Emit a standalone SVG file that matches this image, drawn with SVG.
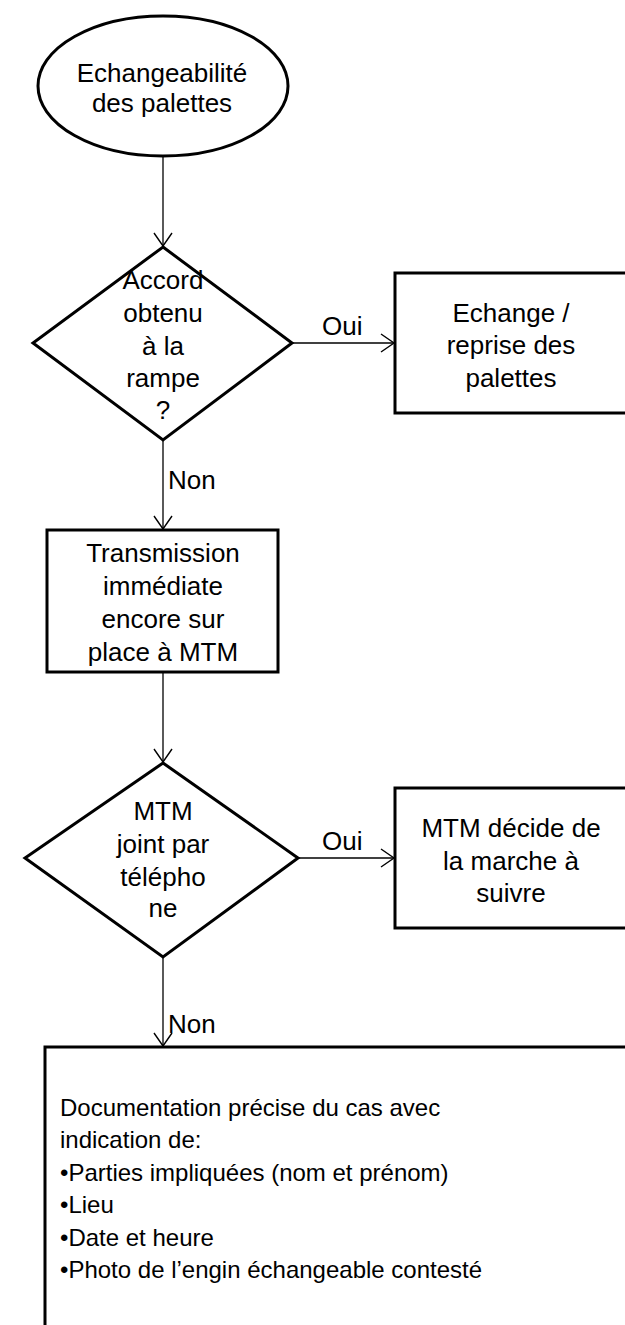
<svg xmlns="http://www.w3.org/2000/svg" width="625" height="1325" viewBox="0 0 625 1325">
<style>
.s{fill:#fff;stroke:#000;stroke-width:3}
.c{fill:none;stroke:#000;stroke-width:1.3}
text{font-family:"Liberation Sans",Arial,sans-serif;font-size:26px;fill:#000}
.m{text-anchor:middle}
.d{font-size:24px}
</style>
<defs>
<marker id="a" markerWidth="16" markerHeight="20" refX="14" refY="10" orient="auto" markerUnits="userSpaceOnUse">
<path d="M1,1 L14,10 L1,19" fill="none" stroke="#000" stroke-width="1.4"/>
</marker>
</defs>
<g id="connectors">
<line class="c" x1="163" y1="157" x2="163" y2="246" marker-end="url(#a)"/>
<line class="c" x1="292" y1="343" x2="394" y2="343" marker-end="url(#a)"/>
<text x="322" y="335">Oui</text>
<line class="c" x1="163" y1="440" x2="163" y2="529" marker-end="url(#a)"/>
<text x="168" y="489">Non</text>
<line class="c" x1="163" y1="672" x2="163" y2="762" marker-end="url(#a)"/>
<line class="c" x1="298" y1="858" x2="394" y2="858" marker-end="url(#a)"/>
<text x="322" y="850">Oui</text>
<line class="c" x1="163" y1="957" x2="163" y2="1046" marker-end="url(#a)"/>
<text x="168" y="1033">Non</text>
</g>
<g id="start">
<ellipse class="s" cx="163" cy="86" rx="125" ry="70"/>
<text class="m" x="162" y="82">Echangeabilité</text>
<text class="m" x="162" y="112">des palettes</text>
</g>
<g id="decision1">
<polygon class="s" points="163,247 292,343 163,440 33,343"/>
<text class="m" x="163" y="289">Accord</text>
<text class="m" x="163" y="322">obtenu</text>
<text class="m" x="163" y="355">à la</text>
<text class="m" x="163" y="387">rampe</text>
<text class="m" x="163" y="419">?</text>
</g>
<g id="exchange">
<rect class="s" x="395" y="273" width="233" height="140"/>
<text class="m" x="511" y="322">Echange /</text>
<text class="m" x="511" y="354">reprise des</text>
<text class="m" x="511" y="387">palettes</text>
</g>
<g id="transmission">
<rect class="s" x="47" y="530" width="231" height="142"/>
<text class="m" x="163" y="562">Transmission</text>
<text class="m" x="163" y="595">immédiate</text>
<text class="m" x="163" y="628">encore sur</text>
<text class="m" x="163" y="661">place à MTM</text>
</g>
<g id="decision2">
<polygon class="s" points="163,763 298,858 163,957 25,858"/>
<text class="m" x="163" y="820">MTM</text>
<text class="m" x="163" y="853">joint par</text>
<text class="m" x="163" y="886">télépho</text>
<text class="m" x="163" y="917">ne</text>
</g>
<g id="mtm-decides">
<rect class="s" x="395" y="788" width="233" height="140"/>
<text class="m" x="511" y="837">MTM décide de</text>
<text class="m" x="511" y="870">la marche à</text>
<text class="m" x="511" y="902">suivre</text>
</g>
<g id="documentation">
<rect class="s" x="45" y="1047" width="600" height="300"/>
<text class="d" x="60" y="1116">Documentation précise du cas avec</text>
<text class="d" x="60" y="1148">indication de:</text>
<text class="d" x="60" y="1181">•Parties impliquées (nom et prénom)</text>
<text class="d" x="60" y="1213">•Lieu</text>
<text class="d" x="60" y="1246">•Date et heure</text>
<text class="d" x="60" y="1278">•Photo de l’engin échangeable contesté</text>
</g>
</svg>
